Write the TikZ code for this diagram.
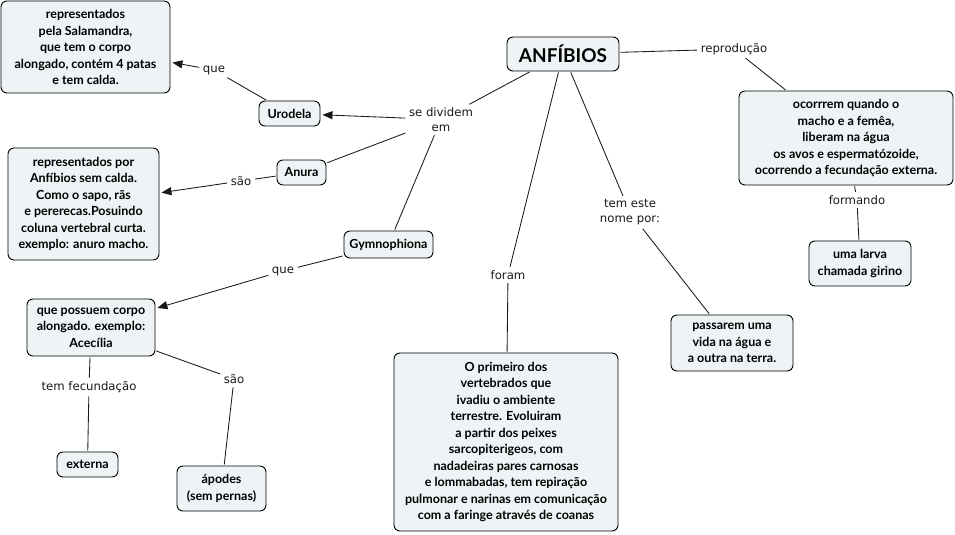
\documentclass[tikz,border=0pt]{standalone}
\usepackage{fontspec}
\setmainfont{Lato}
\newfontfamily\labfont{DejaVu Sans}
\usetikzlibrary{arrows.meta}
\definecolor{cfill}{HTML}{EEF3F5}
\tikzset{
  concept/.style={draw=black, line width=0.9pt, fill=cfill, rounded corners=6pt, align=center,
    font=\bfseries\fontsize{12.5}{16.5}\selectfont, inner sep=2pt},
  lab/.style={font=\labfont\fontsize{11.7}{15}\selectfont, align=center, inner sep=2.5pt, text=black!90},
  link/.style={draw=black!90, line width=0.85pt, shorten <=1pt, shorten >=1pt},
  arr/.style={link, -{Triangle[length=10pt,width=8pt]}, shorten >=2pt},
}
\begin{document}
\begin{tikzpicture}[x=1pt,y=-1pt]
\useasboundingbox (0,0) rectangle (955,535);
% concepts
\node[concept, minimum width=112, minimum height=34, font=\bfseries\fontsize{19}{22}\selectfont] (anf) at (563,54) {ANFÍBIOS};
\node[concept, minimum width=214, minimum height=94] (rep) at (846,138) {ocorrrem quando o\\macho e a femêa,\\liberam na água\\os avos e espermatózoide,\\ocorrendo a fecundação externa.};
\node[concept, minimum width=102, minimum height=45] (lar) at (860,263.5) {uma larva\\chamada girino};
\node[concept, minimum width=122, minimum height=56] (pas) at (732,343) {passarem uma\\vida na água e\\a outra na terra.};
\node[concept, minimum width=224, minimum height=178] (pri) at (506,442) {O primeiro dos\\vertebrados que\\ivadiu o ambiente\\terrestre. Evoluiram\\a partir dos peixes\\sarcopiterigeos, com\\nadadeiras pares carnosas\\e lommabadas, tem repiração\\pulmonar e narinas em comunicação\\com a faringe através de coanas};
\node[concept, minimum width=61, minimum height=25] (uro) at (289.5,113.5) {Urodela};
\node[concept, minimum width=169, minimum height=92] (sal) at (85.5,47) {representados\\pela Salamandra,\\que tem o corpo\\alongado, contém 4 patas\\e tem calda.};
\node[concept, minimum width=49, minimum height=25] (anu) at (301.5,172.5) {Anura};
\node[concept, minimum width=151, minimum height=112] (anud) at (83.5,204) {representados por\\Anfíbios sem calda.\\Como o sapo, rãs\\e pererecas.Posuindo\\coluna vertebral curta.\\exemplo: anuro macho.};
\node[concept, minimum width=89, minimum height=27] (gym) at (388.5,244.5) {Gymnophiona};
\node[concept, minimum width=128, minimum height=57] (cor) at (91,327.5) {que possuem corpo\\alongado. exemplo:\\Acecília};
\node[concept, minimum width=61, minimum height=25] (ext) at (87.5,464.5) {externa};
\node[concept, minimum width=89, minimum height=45] (apo) at (221.5,488.5) {ápodes\\(sem pernas)};
% linking phrases
\node[lab] (lrep) at (734,49) {reprodução};
\node[lab] (lfor) at (857,200) {formando};
\node[lab] (ltem) at (630,212.5) {tem este\\nome por:};
\node[lab] (lfo) at (508,275) {foram};
\node[lab] (ldiv) at (441,119.5) {se dividem\\em};
\node[lab] (lque1) at (214,70) {que};
\node[lab] (lsao1) at (241,181) {são};
\node[lab] (lque2) at (283,271) {que};
\node[lab] (lfec) at (89,387) {tem fecundação};
\node[lab] (lsao2) at (234,379) {são};
% connectors
\draw[link] (anf) -- (lrep);
\draw[link] (lrep) -- (rep);
\draw[link] (rep) -- (lfor);
\draw[link] (lfor) -- (lar);
\draw[link] (anf) -- (ltem);
\draw[link] (ltem) -- (pas);
\draw[link] (anf) -- (lfo);
\draw[link] (lfo) -- (pri);
\draw[link] (anf) -- (ldiv);
\draw[arr] (ldiv) -- (uro);
\draw[link] (ldiv) -- (anu);
\draw[link] (ldiv) -- (gym);
\draw[link] (uro) -- (lque1);
\draw[arr] (lque1) -- (sal);
\draw[link] (anu) -- (lsao1);
\draw[arr] (lsao1) -- (anud);
\draw[link] (gym) -- (lque2);
\draw[arr] (lque2) -- (cor);
\draw[link] (cor) -- (lfec);
\draw[link] (lfec) -- (ext);
\draw[link] (cor) -- (lsao2);
\draw[link] (lsao2) -- (apo);
\end{tikzpicture}
\end{document}
